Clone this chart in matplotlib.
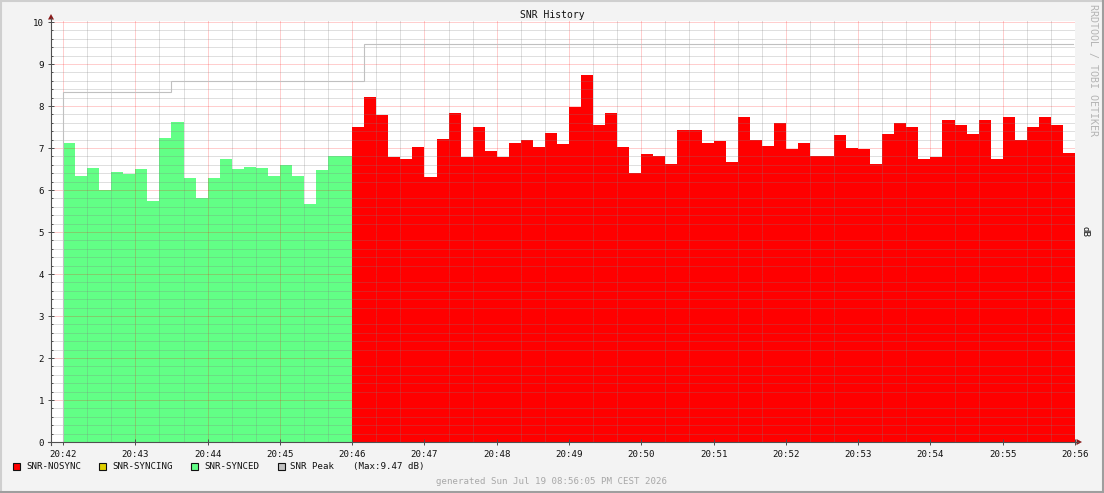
import matplotlib
matplotlib.use("Agg")
import matplotlib.pyplot as plt
from matplotlib.patches import Rectangle, Polygon
from matplotlib.lines import Line2D
from matplotlib.ticker import FixedLocator, MultipleLocator

# ---------------- data ----------------
title = "SNR History"
y_unit = "dB"
watermark = "RRDTOOL / TOBI OETIKER"
footer = "generated Sun Jul 19 08:56:05 PM CEST 2026"

step_seconds = 10
synced_values = [7.13, 6.33, 6.52, 5.99, 6.44, 6.37, 6.49, 5.75, 7.23, 7.61,
                 6.28, 5.80, 6.28, 6.75, 6.49, 6.54, 6.52, 6.33, 6.59, 6.33,
                 5.66, 6.47, 6.80, 6.80]
nosync_values = [7.49, 8.21, 7.78, 6.78, 6.73, 7.02, 6.30, 7.21, 7.83, 6.78,
                 7.49, 6.92, 6.78, 7.11, 7.18, 7.02, 7.35, 7.09, 7.97, 8.75,
                 7.54, 7.83, 7.02, 6.40, 6.85, 6.80, 6.63, 7.42, 7.42, 7.13,
                 7.16, 6.66, 7.75, 7.18, 7.04, 7.59, 6.97, 7.13, 6.80, 6.82,
                 7.30, 6.99, 6.97, 6.63, 7.33, 7.59, 7.49, 6.75, 6.78, 7.66,
                 7.54, 7.33, 7.66, 6.73, 7.73, 7.18, 7.51, 7.75, 7.54, 6.87]
peak_levels = [8.33, 8.60, 9.47]
peak_change_steps = [0, 9, 25]
peak_max = 9.47

tick_labels = ["20:42", "20:43", "20:44", "20:45", "20:46", "20:47", "20:48",
               "20:49", "20:50", "20:51", "20:52", "20:53", "20:54", "20:55", "20:56"]
y_ticks = [0, 1, 2, 3, 4, 5, 6, 7, 8, 9, 10]
legend_labels = ["SNR-NOSYNC", "SNR-SYNCING", "SNR-SYNCED", "SNR Peak"]

# ---------------- style ----------------
W, H = 1104, 493
C_NOSYNC = "#ff0000"
C_SYNCING = "#e0d000"
C_SYNCED = "#62ff86"
C_PEAK = "#c0c0c0"
C_CANVAS = "#f3f3f3"
C_AXIS = "#505050"
C_ARROW = "#8b1a1a"
MONO = ["DejaVu Sans Mono"]

plt.rcParams["font.family"] = MONO

fig = plt.figure(figsize=(W / 100, H / 100), dpi=100)
fig.patch.set_facecolor(C_CANVAS)


def fx(x):
    return x / W


def fy(y):
    return 1 - y / H


# plot area: x 51..1075, y 21..442
ax = fig.add_axes([fx(51), fy(442), (1075 - 51) / W, (442 - 21) / H])
ax.set_facecolor("white")
for s in ax.spines.values():
    s.set_visible(False)

n_sync = len(synced_values)
sync_x = [i * step_seconds for i in range(n_sync)]
nos_x = [(n_sync + i) * step_seconds for i in range(len(nosync_values))]
ax.bar(sync_x, synced_values, width=step_seconds, align="edge",
       color=C_SYNCED, linewidth=0, zorder=2)
ax.bar(nos_x, nosync_values, width=step_seconds, align="edge",
       color=C_NOSYNC, linewidth=0, zorder=2)

# peak line
total_steps = n_sync + len(nosync_values)
px = [peak_change_steps[0] * step_seconds]
py = [0]
for i, lvl in enumerate(peak_levels):
    x0 = peak_change_steps[i] * step_seconds
    x1 = (peak_change_steps[i + 1] * step_seconds if i + 1 < len(peak_levels)
          else total_steps * step_seconds - 2)
    px += [x0, x1]
    py += [lvl, lvl]
ax.plot(px, py, color=C_PEAK, linewidth=0.8, zorder=4, solid_joinstyle="miter")

ax.set_xlim(-10, total_steps * step_seconds)
ax.set_ylim(0, 421 / 42)

tick_pos = [i * 60 for i in range(len(tick_labels))]
ax.xaxis.set_major_locator(FixedLocator(tick_pos))
ax.set_xticklabels(tick_labels)
ax.xaxis.set_minor_locator(MultipleLocator(20))
ax.yaxis.set_major_locator(FixedLocator(y_ticks))
ax.set_yticklabels([str(v) for v in y_ticks])
ax.yaxis.set_minor_locator(MultipleLocator(0.2))

ax.grid(which="major", color="#ff0000", alpha=0.38, linestyle=(0, (1, 1)),
        linewidth=0.72, zorder=5)
ax.grid(which="minor", color="#808080", alpha=0.5, linestyle=(0, (1, 1)),
        linewidth=0.72, zorder=5)
ax.set_axisbelow(False)

ax.tick_params(axis="both", which="major", direction="inout", length=5,
               width=0.72, color=C_AXIS, labelsize=6.6, labelcolor="#111111",
               pad=2.5)
ax.tick_params(axis="x", which="major", pad=3)
ax.tick_params(axis="both", which="minor", direction="in", length=1.6,
               width=0.72, color=C_AXIS)
ax.tick_params(axis="x", which="minor", length=0)

# axis lines + arrows
fig.add_artist(Line2D([fx(51), fx(51)], [fy(445), fy(18)], color=C_AXIS,
                      linewidth=0.8))
fig.add_artist(Line2D([fx(48), fx(1078)], [fy(442), fy(442)], color=C_AXIS,
                      linewidth=0.8))
fig.add_artist(Polygon([[fx(48), fy(19.5)], [fx(54), fy(19.5)], [fx(51), fy(14)]],
                       closed=True, color=C_ARROW, linewidth=0))
fig.add_artist(Polygon([[fx(1076.5), fy(439)], [fx(1076.5), fy(445)], [fx(1082), fy(442)]],
                       closed=True, color=C_ARROW, linewidth=0))

# texts
fig.text(fx(552), fy(15), title, ha="center", va="center", fontsize=7,
         color="#111111")
fig.text(fx(1093), fy(4), watermark, ha="center", va="top", rotation=270,
         fontsize=7.2, color="#b4b4b4")
fig.text(fx(1085), fy(232), y_unit, ha="center", va="center", rotation=270,
         fontsize=6.6, color="#111111")
fig.text(fx(552), fy(481), footer, ha="center", va="center", fontsize=6.6,
         color="#a8a8a8")

# legend
legend_colors = [C_NOSYNC, C_SYNCING, C_SYNCED, C_PEAK]
box_x = [13, 99, 191, 278]
text_x = [26.5, 112.5, 204, 290]
for bx, tx, lab, col in zip(box_x, text_x, legend_labels, legend_colors):
    fig.add_artist(Rectangle((fx(bx), fy(470)), 7 / W, 7 / H, facecolor=col,
                             edgecolor="#111111", linewidth=0.8))
    fig.text(fx(tx), fy(466.5), lab, ha="left", va="center", fontsize=6.6,
             color="#111111")
fig.text(fx(353), fy(466.5), "(Max:%.2f dB)" % peak_max, ha="left",
         va="center", fontsize=6.6, color="#111111")

# frame shade
fig.add_artist(Line2D([0, 1], [fy(0.5), fy(0.5)], color="#cfcfcf", linewidth=1.5))
fig.add_artist(Line2D([fx(0.5), fx(0.5)], [0, 1], color="#cfcfcf", linewidth=1.5))
fig.add_artist(Line2D([0, 1], [fy(492), fy(492)], color="#9e9e9e", linewidth=1.5))
fig.add_artist(Line2D([fx(1103), fx(1103)], [0, 1], color="#9e9e9e", linewidth=1.5))

fig.savefig("out.png", dpi=100, facecolor=fig.get_facecolor())
